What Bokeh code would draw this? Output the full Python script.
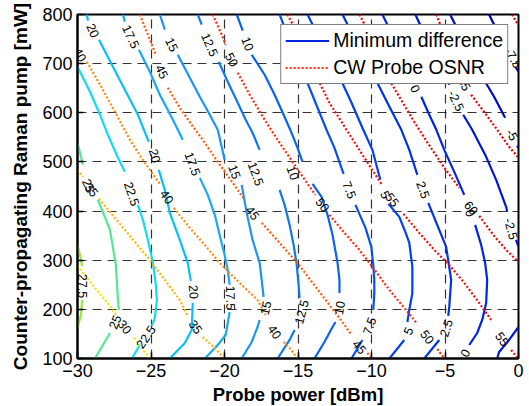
from bokeh.plotting import figure
from bokeh.models import Legend, LegendItem, FixedTicker, Range1d
from bokeh.core.properties import value
from bokeh.embed import file_html
from bokeh.resources import INLINE

nan = float("nan")

# ---------------- axes ----------------
x_ticks = [-30, -25, -20, -15, -10, -5, 0]
y_ticks = [100, 200, 300, 400, 500, 600, 700, 800]

# ---------------- "Minimum difference" contour lines (solid) ----------------
# nan marks the gap where the inline contour label sits
md_levels = [27.5, 25, 22.5, 20, 17.5, 15, 12.5, 10, 7.5, 5, 2.5, 0, -2.5, -5, -7.5]

md_x_275 = [-30.0, -29.83, -29.69, nan, -29.69, -29.76, -30.0]
md_y_275 = [331.2, 310.8, 288.4, nan, 219.1, 188.6, 162.1]

md_x_250 = [-30.0, -29.63, nan, -28.61, -28.20, -27.79, -27.39, -27.25, -27.18, nan, -27.79, -28.27, -28.81]
md_y_250 = [538.9, 494.1, nan, 422.8, 392.3, 361.7, 290.4, 219.1, 198.8, nan, 151.9, 127.5, 100.0]

md_x_225 = [-30.0, -29.15, -28.47, -27.93, -27.25, -26.78, nan, -25.89, -25.55, -25.21, -24.87, -24.67, -24.60, -24.74, -24.94, nan, -25.76, -26.30]
md_y_225 = [693.7, 642.8, 595.9, 555.2, 508.4, 479.8, nan, 412.6, 382.1, 341.3, 294.5, 249.7, 219.1, 182.5, 166.2, nan, 127.5, 100.0]

md_x_200 = [-29.36, -29.29, nan, -28.54, -27.66, -26.78, -25.89, -25.15, nan, -24.47, -24.06, -23.72, -23.04, -22.50, -22.29, nan, -22.16, -22.23, -22.70, -23.72]
md_y_200 = [800.0, 787.4, nan, 748.7, 697.8, 646.9, 595.9, 540.9, nan, 483.9, 443.2, 396.3, 341.3, 294.5, 257.8, nan, 213.0, 158.0, 131.6, 100.0]

md_x_175 = [-26.91, -26.78, nan, -25.82, -25.08, -24.40, -23.58, -22.84, nan, -21.68, -21.14, -20.66, -20.33, -19.99, -19.78, -19.65, nan, -19.65, -19.92, -20.46, -21.34]
md_y_175 = [800.0, 785.3, nan, 728.3, 683.5, 636.7, 589.8, 545.0, nan, 467.6, 433.0, 392.3, 351.5, 310.8, 280.2, 249.7, nan, 194.7, 147.9, 127.5, 100.0]

md_x_150 = [-24.40, -24.06, nan, -23.18, -22.36, -21.68, -21.00, -20.46, -19.99, nan, -18.83, -18.49, -18.09, -17.61, -17.47, -17.34, nan, -17.61, -17.75, -18.15, -18.83]
md_y_150 = [800.0, 769.1, nan, 718.1, 671.3, 632.6, 595.9, 565.4, 504.3, nan, 453.4, 396.3, 341.3, 294.5, 259.9, 225.3, nan, 178.4, 164.2, 133.6, 100.0]

md_x_125 = [-21.82, -21.55, nan, -20.39, -19.78, -19.10, -18.56, -18.09, -17.61, nan, -16.25, -15.91, -15.57, -15.30, -15.10, -14.96, -14.89, nan, -15.23, -15.57, -16.39]
md_y_125 = [800.0, 779.2, nan, 703.9, 663.1, 620.4, 585.8, 559.3, 524.6, nan, 443.2, 412.6, 371.9, 331.2, 294.5, 249.7, 223.2, nan, 158.0, 137.7, 100.0]

md_x_100 = [-19.17, -18.76, nan, -18.15, -17.27, -16.59, -15.98, -15.44, -15.03, -14.69, nan, -14.01, -13.40, -12.99, -12.65, -12.31, -12.18, -12.18, nan, -12.45, -12.65, -13.20, -13.88]
md_y_100 = [800.0, 767.0, nan, 718.1, 677.4, 636.7, 595.9, 559.3, 528.7, 500.2, nan, 455.4, 428.9, 392.3, 351.5, 294.5, 259.9, 233.4, nan, 174.3, 164.2, 133.6, 100.0]

md_x_075 = [-16.25, -15.91, -15.44, -14.89, -14.22, -13.67, -13.06, -12.52, -11.90, nan, -11.09, -10.41, -10.01, -9.88, -9.81, -9.81, -9.88, nan, -10.62, -11.36]
md_y_075 = [800.0, 773.1, 738.5, 697.8, 650.9, 610.2, 565.4, 528.7, 475.8, nan, 412.6, 365.8, 327.1, 290.4, 259.9, 233.4, 198.8, nan, 137.7, 100.0]

md_x_050 = [-14.35, -13.67, -12.86, -12.18, -11.36, -10.62, -9.94, -9.40, nan, -8.85, -8.11, -7.70, -7.43, -7.22, -7.22, -7.43, -7.56, nan, -7.77, -8.78]
md_y_050 = [800.0, 758.9, 712.0, 673.3, 620.4, 569.5, 524.6, 463.6, nan, 414.6, 388.2, 357.6, 335.2, 286.4, 233.4, 198.8, 174.3, nan, 137.7, 100.0]

md_x_025 = [-11.97, -11.29, -10.48, -9.81, -8.92, -7.97, -7.43, -6.88, nan, -6.14, -5.53, -4.92, -4.58, -4.71, -4.78, nan, -5.39, -6.41]
md_y_025 = [800.0, 758.9, 712.0, 673.3, 620.4, 565.4, 524.6, 473.8, nan, 416.7, 371.9, 327.1, 259.9, 204.9, 186.6, nan, 137.7, 100.0]

md_x_000 = [-9.26, -8.58, -7.90, -7.43, nan, -6.61, -6.07, -5.59, -5.05, -4.37, -3.69, nan, -2.95, -2.54, -2.27, -2.13, -2.20, -2.47, -2.81, -3.35]
md_y_000 = [800.0, 758.9, 718.1, 677.4, nan, 632.6, 595.9, 565.4, 524.6, 479.8, 433.0, nan, 371.9, 331.2, 294.5, 259.9, 213.0, 178.4, 151.9, 127.5]

md_x_m025 = [-7.02, -6.21, -5.39, -4.85, -4.71, nan, -3.76, -3.15, -2.20, -1.52, -0.84, -0.77, nan, -0.17, 0.0, nan, 0.0, -0.64, -1.32, -1.45]
md_y_m025 = [800.0, 748.7, 703.9, 673.3, 657.0, nan, 595.9, 565.4, 510.4, 463.6, 408.6, 398.4, nan, 341.3, 327.1, nan, 164.2, 137.7, 113.2, 100.0]

md_x_m050 = [-4.65, -3.90, -3.15, -2.47, -1.66, -0.91, nan, -0.10, 0.0]
md_y_m050 = [800.0, 754.8, 712.0, 673.3, 632.6, 589.8, nan, 532.8, 528.7]

md_x_m075 = [-2.00, -1.32, -0.77, nan, -0.17, 0.0]
md_y_m075 = [800.0, 758.9, 732.4, nan, 691.7, 683.5]

# ---------------- "CW Probe OSNR" contour lines (dotted) ----------------
os_levels = [30, 35, 40, 45, 50, 55, 60, 65, 70]

os_x_30 = [-30.0, -28.81, -27.79, -27.32, nan, -26.16, -25.62, -25.08]
os_y_30 = [288.4, 243.6, 206.9, 186.6, nan, 141.8, 121.4, 100.0]

os_x_35 = [-30.0, -29.63, nan, -28.54, -27.45, -26.44, -25.08, -24.06, -23.04, -22.50, nan, -21.48, -20.67, -19.99]
os_y_35 = [483.9, 469.7, nan, 424.9, 386.2, 349.5, 300.6, 259.9, 219.1, 186.6, nan, 143.8, 121.4, 100.0]

os_x_40 = [-29.36, -28.47, -27.45, -26.44, -25.42, -24.40, nan, -23.45, -22.36, -21.34, -20.33, -18.97, -17.75, -17.20, nan, -15.98, -15.51, -15.03]
os_y_40 = [703.9, 657.0, 602.0, 545.0, 498.2, 455.4, nan, 406.5, 365.8, 331.2, 294.5, 253.8, 219.1, 188.6, nan, 133.6, 119.3, 100.0]

os_x_45 = [-25.76, -25.08, -24.67, nan, -23.86, -23.04, -22.23, -21.48, -20.46, -19.44, -18.63, nan, -17.47, -16.25, -15.03, -13.54, -12.18, -11.36, nan, -10.28, -10.01]
os_y_45 = [800.0, 748.7, 718.1, nan, 650.9, 610.2, 575.6, 545.0, 500.2, 457.5, 422.8, nan, 376.0, 335.2, 294.5, 235.4, 182.5, 147.9, nan, 111.2, 100.0]

os_x_50 = [-20.80, -20.19, -19.92, nan, -19.10, -18.29, -17.27, -16.39, -15.37, -14.35, -13.81, nan, -12.86, -11.84, -10.82, -9.94, -8.78, -7.77, -6.88, nan, -5.53, -5.05]
os_y_50 = [800.0, 758.9, 738.5, nan, 681.5, 636.7, 585.8, 545.0, 500.2, 455.4, 433.0, nan, 392.3, 355.6, 321.0, 286.4, 239.5, 202.9, 170.3, nan, 119.3, 100.0]

os_x_55 = [-15.71, -14.89, -14.22, -13.74, -12.86, -11.70, -10.48, -9.33, nan, -7.83, -6.75, -5.73, -4.71, -3.69, -2.67, -1.86, nan, -0.50, -0.05]
os_y_55 = [800.0, 752.8, 708.0, 673.3, 620.4, 565.4, 508.4, 455.4, nan, 394.3, 355.6, 321.0, 290.4, 253.8, 213.0, 178.4, nan, 117.3, 101.0]

os_x_60 = [-10.82, -10.01, -9.46, -8.92, -8.11, -7.43, -6.75, -5.87, -4.99, -4.03, nan, -2.67, -1.66, -0.77, 0.0]
os_y_60 = [800.0, 752.8, 718.1, 673.3, 632.6, 598.0, 565.4, 524.6, 486.0, 447.3, nan, 390.2, 349.5, 318.9, 296.5]

os_x_65 = [-5.59, -5.05, -4.58, -4.17, nan, -3.22, -2.34, -1.45, -0.64, 0.0]
os_y_65 = [800.0, 758.9, 724.2, 695.7, nan, 636.7, 602.0, 565.4, 530.8, 508.4]

os_x_70 = [-0.44, -0.23, 0.0]
os_y_70 = [800.0, 789.4, 777.2]

# ---------------- inline contour labels ----------------
md_lab_text = ["20", "17.5", "15", "12.5", "10", "0", "-2.5", "-5", "-7.5",
               "22.5", "20", "17.5", "15", "12.5", "10", "7.5", "5", "2.5", "0", "-2.5",
               "25", "27.5", "25", "22.5", "20", "17.5", "15", "12.5", "10", "7.5", "5", "2.5", "0"]
md_lab_x = [-28.95, -26.37, -23.58, -21.0, -18.42, -7.02, -4.24, -0.43, -0.36,
            -26.30, -24.74, -22.16, -19.31, -17.86, -15.35, -11.50, -9.06, -6.48, -3.29, -0.50,
            -29.25, -29.69, -27.45, -25.35, -22.09, -19.58, -17.20, -14.76, -12.18, -10.14, -7.50, -4.92, -3.63]
md_lab_y = [767.0, 754.8, 738.5, 738.5, 740.5, 648.9, 624.5, 555.2, 712.0,
            435.0, 512.4, 496.1, 479.8, 475.8, 477.8, 443.2, 433.0, 443.2, 396.3, 363.8,
            451.3, 247.7, 174.3, 143.8, 235.4, 223.2, 202.9, 194.7, 202.9, 166.2, 156.0, 162.1, 111.2]

os_lab_text = ["40", "45", "50", "65", "35", "40", "45", "50", "55", "60", "30", "35", "40", "45", "50", "55"]
os_lab_x = [-29.83, -24.26, -19.51, -3.69, -29.05, -23.92, -18.09, -13.33, -8.58, -3.22, -26.78, -21.96, -16.59, -10.82, -6.20, -1.11]
os_lab_y = [718.1, 683.5, 708.0, 659.0, 443.2, 428.9, 396.3, 412.6, 422.8, 406.5, 164.2, 164.2, 154.0, 123.4, 143.8, 139.7]

# ---------------- styles ----------------
md_colors = ["#9ae640", "#52e894", "#10dcf2", "#08c0f7", "#1aa8f5", "#1c94f2", "#1078ef", "#0a62f0",
             "#0650f0", "#0340ee", "#0232e8", "#0125e0", "#0018d4", "#000cc4", "#0000b0"]
os_colors = ["#f2e400", "#ffb400", "#ff8a10", "#ff5a10", "#ff2a10", "#f01010", "#e80c0c", "#e00808", "#d80000"]
md_lab_angle = [-65, -65, -65, -66, -68, -65, -65, -60, -60,
                -72, -75, -70, -70, -70, -70, -68, -65, -70, -70, -75,
                -67, -90, 68, 56, -86, -89, 77, 75, 80, 70, 66, 72, 62]
os_lab_angle = [-62, -63, -62, -60, -52, -55, -52, -53, -53, -50, -52, -54, -55, -50, -52, -54]

FONT = "Liberation Sans"

p = figure(frame_width=441, frame_height=344, x_range=Range1d(-30, 0), y_range=Range1d(100, 800),
           output_backend="svg", toolbar_location=None,
           min_border_left=77, min_border_right=10, min_border_top=14, min_border_bottom=48)
p.background_fill_color = "white"
p.border_fill_color = "white"
p.outline_line_color = "black"
p.outline_line_width = 2

md_series = [(md_x_275, md_y_275), (md_x_250, md_y_250), (md_x_225, md_y_225), (md_x_200, md_y_200),
             (md_x_175, md_y_175), (md_x_150, md_y_150), (md_x_125, md_y_125), (md_x_100, md_y_100),
             (md_x_075, md_y_075), (md_x_050, md_y_050), (md_x_025, md_y_025), (md_x_000, md_y_000),
             (md_x_m025, md_y_m025), (md_x_m050, md_y_m050), (md_x_m075, md_y_m075)]
os_series = [(os_x_30, os_y_30), (os_x_35, os_y_35), (os_x_40, os_y_40), (os_x_45, os_y_45),
             (os_x_50, os_y_50), (os_x_55, os_y_55), (os_x_60, os_y_60), (os_x_65, os_y_65),
             (os_x_70, os_y_70)]

md_renderers = []
for (xs, ys), c in zip(md_series, md_colors):
    md_renderers.append(p.line(xs, ys, line_color=c, line_width=2.2))
os_renderers = []
for (xs, ys), c in zip(os_series, os_colors):
    os_renderers.append(p.line(xs, ys, line_color=c, line_width=2.2, line_dash="2 2"))

p.text(x=md_lab_x, y=md_lab_y, text=md_lab_text, angle=md_lab_angle, angle_units="deg",
       text_font=value(FONT), text_font_size="12.5px", text_align="center",
       text_baseline="middle", text_color="black")
p.text(x=os_lab_x, y=os_lab_y, text=os_lab_text, angle=os_lab_angle, angle_units="deg",
       text_font=value(FONT), text_font_size="12.5px", text_align="center",
       text_baseline="middle", text_color="black")

# axes
for ax in (p.xaxis[0], p.yaxis[0]):
    ax.major_label_text_font = FONT
    ax.major_label_text_font_size = "18px"
    ax.major_label_text_color = "black"
    ax.axis_label_text_font = FONT
    ax.axis_label_text_font_style = "bold"
    ax.axis_label_text_color = "black"
    ax.axis_line_color = "black"
    ax.axis_line_width = 2
    ax.major_tick_in = 6
    ax.major_tick_out = 0
    ax.major_tick_line_width = 1.5
    ax.minor_tick_line_color = None
    ax.major_label_standoff = 5
p.xaxis.ticker = FixedTicker(ticks=x_ticks)
p.yaxis.ticker = FixedTicker(ticks=y_ticks)
p.xaxis.axis_label = "Probe power [dBm]"
p.yaxis.axis_label = "Counter-propagating Raman pump [mW]"
p.xaxis.axis_label_text_font_size = "18.5px"
p.yaxis.axis_label_text_font_size = "19px"
p.xaxis.axis_label_standoff = 4
p.yaxis.axis_label_standoff = 8

p.xgrid.ticker = FixedTicker(ticks=x_ticks)
p.ygrid.ticker = FixedTicker(ticks=y_ticks)
for g in (p.xgrid[0], p.ygrid[0]):
    g.grid_line_color = "#111111"
    g.grid_line_width = 1.2
    g.grid_line_dash = "9 6"
    g.grid_line_alpha = 0.85

legend = Legend(items=[LegendItem(label="Minimum difference", renderers=[md_renderers[11]]),
                       LegendItem(label="CW Probe OSNR", renderers=[os_renderers[4]])],
                location="top_right", margin=10, padding=4, spacing=4,
                glyph_width=44, glyph_height=21, label_height=21, label_standoff=4,
                label_text_font=FONT, label_text_font_size="19.5px", label_text_color="black",
                border_line_color="black", border_line_width=1.3,
                background_fill_color="white", background_fill_alpha=1.0)
p.add_layout(legend)

open("out.html", "w").write(file_html(p, INLINE))
